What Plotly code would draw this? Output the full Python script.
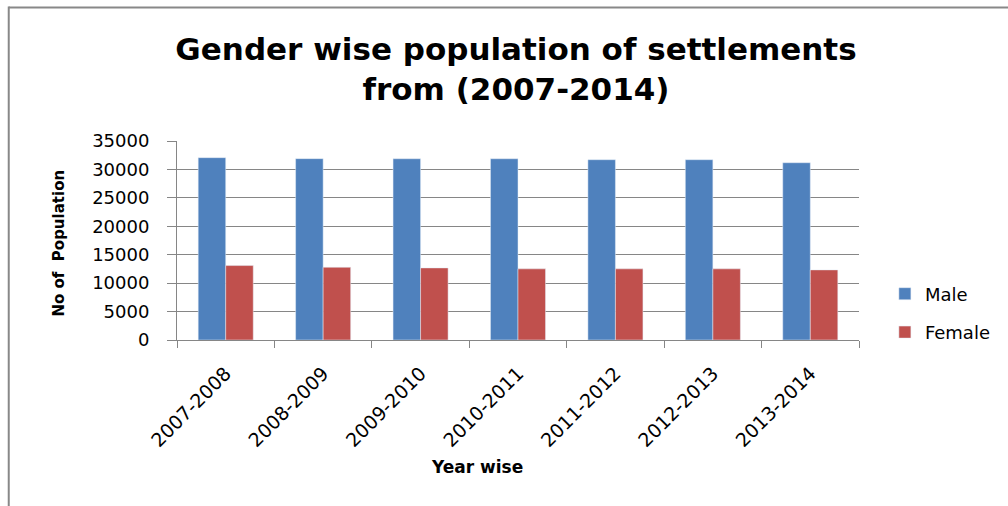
import plotly.graph_objects as go

categories = ["2007-2008", "2008-2009", "2009-2010", "2010-2011", "2011-2012", "2012-2013", "2013-2014"]
male = [32070, 31900, 31880, 31880, 31710, 31710, 31180]
female = [13090, 12790, 12680, 12510, 12510, 12510, 12330]
y_ticks = [0, 5000, 10000, 15000, 20000, 25000, 30000, 35000]

W, H = 1008, 506
L, R, T, B = 177, 146, 141, 166
PW, PH = W - L - R, H - T - B

def px2x(px):
    return (px - L) / PW

def py2y(py):
    return (H - B - py) / PH

FONT = "DejaVu Sans"
GRID = "#868686"

fig = go.Figure()
fig.add_trace(go.Bar(x=categories, y=male, name="Male", marker_color="#4F81BD",
                     legendgroup="m"))
fig.add_trace(go.Bar(x=categories, y=female, name="Female", marker_color="#C0504D",
                     legendgroup="f"))

fig.update_layout(
    width=W, height=H,
    margin=dict(l=L, r=R, t=T, b=B, pad=0),
    paper_bgcolor="white", plot_bgcolor="white",
    barmode="group", bargap=0.435, bargroupgap=0,
    font=dict(family=FONT, color="#000000", size=18),
    title=dict(text="<b>Gender wise population of settlements<br>from (2007-2014)</b>",
               x=516 / W, xanchor="center", y=1 - 60 / H, yanchor="middle",
               font=dict(family=FONT, size=31, color="#000000")),
    legend=dict(x=px2x(888), xanchor="left", y=py2y(313), yanchor="middle",
                traceorder="grouped", tracegroupgap=12,
                font=dict(family=FONT, size=18, color="#000000"),
                bgcolor="rgba(0,0,0,0)"),
    showlegend=True,
)

fig.update_xaxes(
    type="category", showgrid=False, showline=True, linecolor=GRID, linewidth=1,
    ticks="outside", tickson="boundaries", ticklen=7, tickcolor=GRID, tickwidth=1,
    tickangle=-45, ticklabelstandoff=14,
    tickfont=dict(family=FONT, size=19, color="#000000"),
    mirror=False, zeroline=False,
)
fig.update_yaxes(
    range=[0, 35000], tickvals=y_ticks, tickformat="d",
    showgrid=True, gridcolor=GRID, gridwidth=1,
    showline=True, linecolor=GRID, linewidth=1,
    ticks="outside", ticklen=9, tickcolor=GRID, tickwidth=1,
    ticklabelstandoff=14,
    tickfont=dict(family=FONT, size=18, color="#000000"), zeroline=False,
)

fig.add_annotation(text="<b>Year wise</b>", xref="paper", yref="paper",
                   x=px2x(478), y=py2y(467), xanchor="center", yanchor="middle",
                   showarrow=False, font=dict(family=FONT, size=17, color="#000000"))
fig.add_annotation(text="<b>No of  Population</b>", xref="paper", yref="paper",
                   x=px2x(58), y=py2y(243), xanchor="center", yanchor="middle",
                   textangle=-90, showarrow=False,
                   font=dict(family=FONT, size=15, color="#000000"))

# chart frame (top and left edges visible)
fig.add_shape(type="line", xref="paper", yref="paper",
              x0=px2x(8), x1=px2x(W + 5), y0=py2y(7.5), y1=py2y(7.5),
              line=dict(color="#888888", width=2))
fig.add_shape(type="line", xref="paper", yref="paper",
              x0=px2x(8), x1=px2x(8), y0=py2y(6.5), y1=py2y(H + 5),
              line=dict(color="#888888", width=2))

fig.write_html("out.html")
